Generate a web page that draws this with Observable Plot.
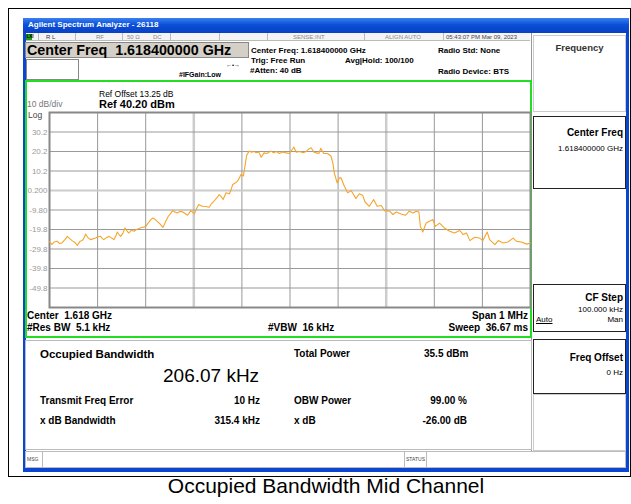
<!DOCTYPE html>
<html><head><meta charset="utf-8">
<script src="https://cdn.jsdelivr.net/npm/d3@7"></script>
<script src="https://cdn.jsdelivr.net/npm/@observablehq/plot@0.6"></script>
<style>
body{margin:0;width:631px;height:504px;background:#fff;position:relative;overflow:hidden;font-family:"Liberation Sans",Arial,sans-serif;}
.a{position:absolute;white-space:pre;line-height:1;}
.b{font-weight:bold;}
.box{position:absolute;box-sizing:border-box;}
</style></head>
<body>
<div id="root"></div>
<script>
// Trace: frequency offset from center (kHz) and level (dBm)
const freqKHz = [-500,-495,-490,-484,-479,-474,-468,-463,-458,-453,-447,-442,-437,-432,-428,-425,-420,-415,-410,-404,-399,-394,-390,-387,-382,-376,-371,-366,-362,-359,-355,-352,-347,-343,-339,-335,-330,-324,-319,-314,-308,-304,-300,-295,-290,-286,-281,-276,-270,-264,-259,-253,-248,-244,-239,-234,-229,-224,-219,-213,-206,-199,-194,-190,-186,-182,-175,-168,-163,-158,-152,-147,-143,-139,-133,-126,-122,-119,-114,-109,-105,-102,-97,-93,-90,-85,-80,-75,-70,-65,-60,-54,-48,-40,-34,-28,-22,-15,-8,-1,8,13,20,27,34,38,44,50,55,60,64,70,78,85,89,92,98,103,106,113,120,127,137,144,151,156,165,174,181,190,196,207,214,221,231,240,248,256,262,268,271,276,283,290,297,302,311,321,332,342,353,360,367,374,384,394,401,410,415,426,433,443,453,464,471,481,492,500];
const levelDbm = [-26.0,-27.5,-26.2,-25.8,-27.0,-26.7,-25.0,-23.3,-24.5,-25.5,-26.5,-27.9,-26.0,-25.5,-24.0,-22.1,-24.0,-25.0,-24.6,-24.2,-23.5,-23.3,-24.5,-25.0,-24.0,-23.3,-24.2,-25.0,-23.0,-21.1,-22.5,-23.3,-21.5,-19.0,-20.5,-21.6,-20.2,-20.7,-19.8,-19.3,-18.8,-18.6,-18.2,-16.5,-15.0,-13.9,-14.5,-15.6,-17.0,-18.7,-16.0,-13.0,-11.5,-10.1,-10.8,-11.3,-10.5,-10.7,-11.5,-12.5,-10.1,-11.8,-9.0,-7.0,-7.5,-7.9,-8.0,-8.4,-6.5,-5.3,-3.5,-1.9,-3.0,-4.4,-1.0,-1.5,1.0,3.3,4.0,5.0,6.7,8.4,7.6,13.6,18.3,20.4,19.8,20.2,19.6,20.0,17.3,19.5,19.2,20.4,19.5,20.2,19.2,20.0,19.5,19.2,22.5,19.8,20.2,19.5,20.2,21.3,22.1,19.8,19.5,19.2,21.8,19.2,19.2,17.9,14.4,9.3,4.1,6.7,6.7,2.4,-1.0,0.2,-3.9,-1.5,-2.2,-5.7,-7.9,-4.4,-7.9,-7.5,-10.1,-10.4,-12.1,-10.8,-11.8,-12.5,-10.4,-11.3,-10.4,-10.8,-18.2,-21.1,-16.5,-15.6,-14.7,-18.2,-16.5,-19.0,-20.7,-21.6,-20.3,-22.4,-21.6,-25.5,-23.8,-24.2,-25.5,-21.1,-25.0,-27.6,-25.5,-26.7,-26.2,-24.2,-25.9,-26.2,-27.3,-26.7];
const yTicks = [30.2,20.2,10.2,0.2,-9.8,-19.8,-29.8,-39.8,-49.8];
const yTickLabels = ["30.2","20.2","10.2","0.200","-9.80","-19.8","-29.8","-39.8","-49.8"];
const xGrid = [-400,-300,-200,-100,0,100,200,300,400];
const yGrid = [30.2,20.2,10.2,0.2,-9.8,-19.8,-29.8,-39.8,-49.8];

const trace = freqKHz.map((f,i)=>({f, v: levelDbm[i]}));
const root = document.getElementById("root");
function box(x,y,w,h,style){const d=document.createElement("div");d.className="box";Object.assign(d.style,{left:x+"px",top:y+"px",width:w+"px",height:h+"px"},style||{});root.appendChild(d);return d;}
function txt(s,x,cy,size,opts={}){const d=document.createElement("div");d.className="a"+(opts.bold?" b":"");d.textContent=s;d.style.fontSize=size+"px";d.style.top=(cy-size*0.55)+"px";if(opts.right!==undefined){d.style.right=(631-opts.right)+"px";}else if(opts.center!==undefined){d.style.left=(opts.center-200)+"px";d.style.width="400px";d.style.textAlign="center";}else d.style.left=x+"px";if(opts.color)d.style.color=opts.color;if(opts.weight)d.style.fontWeight=opts.weight;if(opts.underline)d.style.textDecoration="underline";root.appendChild(d);return d;}

// outer frame
box(8,8,623,469,{border:"1px solid #000"});
// screenshot body
box(23,18,606,454,{background:"#0a46d2"});
box(26,33,600,435,{background:"#fff"});
box(23,18,606,15,{background:"linear-gradient(#3a80f0,#0b4fd8 45%,#0840c4)"});
txt("Agilent Spectrum Analyzer - 26118",28,25.5,8,{bold:true,color:"#fff"});
// status row
box(26,33,504,8,{background:"#f4f4f4",borderBottom:"1px solid #bbb"});
[[38,"#bbb"],[75,"#bbb"],[122,"#bbb"],[170,"#bbb"],[219,"#bbb"],[267,"#bbb"],[364,"#bbb"],[443,"#bbb"]].forEach(([x,c])=>box(x,33,1,8,{background:c}));
box(26,34,6,6,{background:"#1a9c1a"});
txt("LXI",26.5,37.2,4.5,{bold:true,color:"#000"});
txt("R L",46,37.3,6,{color:"#333"});
txt("RF",96,37.3,6,{color:"#888"});
txt("50 Ω",127,37.3,6,{color:"#888"});
txt("DC",153,37.3,6,{color:"#888"});
txt("SENSE:INT",293,37.3,6,{color:"#888"});
txt("ALIGN AUTO",385,37.3,6,{color:"#888"});
txt("05:43:07 PM Mar 09, 2023",446,37.3,6,{color:"#444"});
// center freq box
box(25,42,224,16,{background:"#d4d0c8",border:"1px solid #888"});
txt("Center Freq  1.618400000 GHz",27,50.5,14.3,{bold:true});
box(26,59,53,21,{background:"#fff",border:"1px solid #888"});
txt("#IFGain:Low",179,75,7,{bold:true});
txt("←•→",226,65,6,{color:"#000"});
txt("Center Freq: 1.618400000 GHz",251,51,8,{bold:true});
txt("Trig: Free Run",251,61,8,{bold:true});
txt("Avg|Hold: 100/100",345,61,8,{bold:true});
txt("#Atten: 40 dB",250,71,8,{bold:true});
txt("Radio Std: None",438,51,8,{bold:true});
txt("Radio Device: BTS",438,72,8,{bold:true});
// right softkey panel
box(531,33,95,435,{background:"#fff",borderLeft:"1px solid #999"});
box(533,35,93,77,{border:"1px solid #ccc"});
txt("Frequency",0,48,9.5,{center:579.5,weight:"bold",color:"#333"});
box(533,116,93,73,{border:"1px solid #222"});
txt("Center Freq",0,133,10,{bold:true,right:623});
txt("1.618400000 GHz",0,149,8,{right:623});
box(533,284,93,48,{border:"1px solid #222"});
txt("CF Step",0,298,10,{bold:true,right:623});
txt("100.000 kHz",0,310,8,{right:623});
txt("Auto",536,320.5,8,{underline:true});
txt("Man",0,320.5,8,{right:623});
box(533,339,93,55,{border:"1.5px solid #222"});
txt("Freq Offset",0,358,10,{bold:true,right:623});
txt("0 Hz",0,373,8,{right:623});
box(533,394,93,57,{border:"1px solid #ccc"});
// green plot frame
box(25,80,507,258,{border:"2px solid #22dd22"});
txt("Ref Offset 13.25 dB",99,94.5,8.5);
txt("Ref 40.20 dBm",99,105,11,{bold:true});
txt("10 dB/div",27,105,8.5,{color:"#777"});
txt("Log",28,116,8.5,{color:"#444"});
txt("Center  1.618 GHz",27,316,10,{bold:true});
txt("#Res BW  5.1 kHz",27,328,10,{bold:true});
txt("#VBW  16 kHz",268,328,10,{bold:true});
txt("Span 1 MHz",0,316,10,{bold:true,right:528});
txt("Sweep  36.67 ms",0,328,10,{bold:true,right:528});
// results panel
box(25,340,507,110,{border:"1px solid #bbb",background:"#fff"});
txt("Occupied Bandwidth",40,355,11.5,{bold:true});
txt("206.07 kHz",163,376,19);
txt("Transmit Freq Error",40,401,10,{bold:true});
txt("10 Hz",0,401,10,{bold:true,right:260});
txt("x dB Bandwidth",40,421,10,{bold:true});
txt("315.4 kHz",0,421,10,{bold:true,right:260});
txt("Total Power",294,354,10,{bold:true});
txt("35.5 dBm",424,354,10,{bold:true});
txt("OBW Power",294,401,10,{bold:true});
txt("99.00 %",0,401,10,{bold:true,right:467});
txt("x dB",294,421,10,{bold:true});
txt("-26.00 dB",0,421,10,{bold:true,right:467});
// MSG bar
box(25,451,601,17,{background:"#fff",border:"1px solid #bbb"});
box(42,452,1,15,{background:"#bbb"});
box(404,452,1,15,{background:"#bbb"});
box(426,452,1,15,{background:"#bbb"});
txt("MSG",27,460,5,{color:"#444"});
txt("STATUS",406,460,5,{color:"#444"});
// caption
txt("Occupied Bandwidth Mid Channel",0,486.5,21,{center:326});

// the spectrum plot
const chart = Plot.plot({
  width: 506, height: 256,
  marginLeft: 23, marginRight: 2, marginTop: 31, marginBottom: 30,
  x: {domain: [-500, 500], axis: null},
  y: {domain: [-59.8, 40.2], axis: null},
  style: {fontFamily: "Liberation Sans, Arial, sans-serif", fontSize: "8px", color: "#999", background: "transparent", overflow: "visible"},
  marks: [
    Plot.ruleX(xGrid, {stroke: d => (d===-200||d===200) ? "#ccc" : "#999", strokeWidth: d => (d===-200||d===200) ? 2.5 : 1, strokeOpacity: 1}),
    Plot.ruleY(yGrid, {stroke: d => d===0.2 ? "#ccc" : "#999", strokeWidth: d => d===0.2 ? 2 : 1, strokeOpacity: 1}),
    Plot.frame({stroke: "#888", strokeWidth: 2}),
    Plot.line(trace, {x: "f", y: "v", stroke: "#f5a52a", strokeWidth: 1.1}),
    Plot.axisY({ticks: yTicks, tickFormat: d => yTickLabels[yTicks.indexOf(d)], tickSize: 0, tickPadding: 2, fill: "#999", label: null})
  ]
});
chart.style.position = "absolute";
chart.style.left = "26px";
chart.style.top = "81px";
root.appendChild(chart);
</script>
</body></html>
